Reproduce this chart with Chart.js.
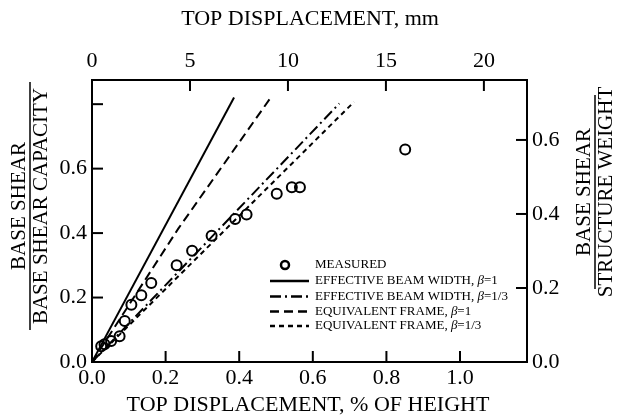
<!DOCTYPE html>
<html lang="en">
<head>
  <meta charset="UTF-8" />
  <title>Base Shear vs Top Displacement</title>
  <script src="https://cdn.jsdelivr.net/npm/chart.js"></script>
  <style>
    body { margin: 0; background: #fff; }
    #wrap { width: 617px; height: 418px; }
  </style>
</head>
<body>
  <div id="wrap"><canvas id="shearChart" width="617" height="418"></canvas></div>

  <script>
    // measured points (drift in % of height, base shear / capacity)
    const measuredDrift = [0.025, 0.034, 0.052, 0.075, 0.089, 0.107, 0.134, 0.161, 0.23, 0.272, 0.325, 0.389, 0.42, 0.502, 0.543, 0.565, 0.851];
    const measuredShear = [0.049, 0.055, 0.065, 0.080, 0.127, 0.178, 0.207, 0.245, 0.30, 0.345, 0.392, 0.444, 0.458, 0.522, 0.542, 0.542, 0.659];

    // analytical lines
    const ebw1Drift = [0, 0.386];
    const ebw1Shear = [0, 0.821];
    const ebw3Drift = [0, 0.672];
    const ebw3Shear = [0, 0.802];
    const ef1Drift = [0, 0.234, 0.486];
    const ef1Shear = [0, 0.413, 0.821];
    const ef3Drift = [0, 0.712];
    const ef3Shear = [0, 0.807];

    const seriesLabels = [
      "MEASURED",
      "EFFECTIVE BEAM WIDTH, β=1",
      "EFFECTIVE BEAM WIDTH, β=1/3",
      "EQUIVALENT FRAME, β=1",
      "EQUIVALENT FRAME, β=1/3"
    ];

    const pairs = (xs, ys) => xs.map((x, i) => ({ x: x, y: ys[i] }));
    const SERIF = '"Liberation Serif", "Times New Roman", serif';

    const lineStyle = (dash) => ({
      borderColor: "#000",
      borderWidth: 2,
      borderDash: dash,
      pointRadius: 0,
      fill: false,
      showLine: true
    });

    // inward tick marks
    const tickMarks = {
      id: "tickMarks",
      afterDraw(chart) {
        const ctx = chart.ctx;
        const a = chart.chartArea;
        const len = 11;
        ctx.save();
        ctx.strokeStyle = "#000";
        ctx.lineWidth = 2;
        Object.values(chart.scales).forEach(s => {
          s.ticks.forEach(t => {
            const p = s.getPixelForValue(t.value);
            ctx.beginPath();
            if (s.id === "x") {
              if (p <= a.left + 1) return;
              ctx.moveTo(p, a.bottom); ctx.lineTo(p, a.bottom - len);
            } else if (s.id === "x2") {
              if (p <= a.left + 1) return;
              ctx.moveTo(p, a.top); ctx.lineTo(p, a.top + len);
            } else if (s.id === "y") {
              if (p >= a.bottom - 1) return;
              ctx.moveTo(a.left, p); ctx.lineTo(a.left + len, p);
            } else {
              if (p >= a.bottom - 1) return;
              ctx.moveTo(a.right, p); ctx.lineTo(a.right - len, p);
            }
            ctx.stroke();
          });
        });
        ctx.restore();
      }
    };

    // axis titles, including the two fraction-style ones
    const axisTitles = {
      id: "axisTitles",
      afterDraw(chart) {
        const ctx = chart.ctx;
        ctx.save();
        ctx.fillStyle = "#000";
        ctx.strokeStyle = "#000";
        ctx.font = "22px " + SERIF;
        ctx.textAlign = "center";
        ctx.textBaseline = "middle";
        ctx.fillText("TOP DISPLACEMENT, mm", 310, 19);
        ctx.fillText("TOP DISPLACEMENT, % OF HEIGHT", 308, 405);

        ctx.font = "21px " + SERIF;
        function fraction(cx, cy, top, bottom, barLen) {
          ctx.save();
          ctx.translate(cx, cy);
          ctx.rotate(-Math.PI / 2);
          ctx.fillText(top, 0, -11);
          ctx.fillText(bottom, 0, 11);
          ctx.lineWidth = 1.5;
          ctx.beginPath();
          ctx.moveTo(-barLen / 2, 0);
          ctx.lineTo(barLen / 2, 0);
          ctx.stroke();
          ctx.restore();
        }
        fraction(30, 206, "BASE SHEAR", "BASE SHEAR CAPACITY", 248);
        fraction(595, 192, "BASE SHEAR", "STRUCTURE WEIGHT", 194);
        ctx.restore();
      }
    };

    // legend drawn inside the plot, with italic beta
    const innerLegend = {
      id: "innerLegend",
      afterDraw(chart) {
        const ctx = chart.ctx;
        const rows = [265, 281, 296.5, 311.5, 326];
        const x0 = 270, x1 = 309, tx = 315;
        ctx.save();
        ctx.textBaseline = "middle";
        ctx.textAlign = "left";
        chart.data.datasets.forEach((ds, i) => {
          const y = rows[i];
          ctx.strokeStyle = "#000";
          if (i === 0) {
            ctx.lineWidth = 2.5;
            ctx.setLineDash([]);
            ctx.beginPath();
            ctx.arc(285, y, 4, 0, Math.PI * 2);
            ctx.stroke();
          } else {
            ctx.lineWidth = 2.5;
            ctx.setLineDash(ds.borderDash || []);
            ctx.beginPath();
            ctx.moveTo(x0, y);
            ctx.lineTo(x1, y);
            ctx.stroke();
            ctx.setLineDash([]);
          }
          ctx.fillStyle = "#000";
          const parts = ds.label.split("β");
          let x = tx;
          parts.forEach((part, k) => {
            if (k > 0) {
              ctx.font = "italic 13px " + SERIF;
              ctx.fillText("β", x, y);
              x += ctx.measureText("β").width;
            }
            ctx.font = "13px " + SERIF;
            ctx.fillText(part, x, y);
            x += ctx.measureText(part).width;
          });
        });
        ctx.restore();
      }
    };

    const tickFont = { family: SERIF, size: 22 };

    new Chart(document.getElementById("shearChart"), {
      type: "scatter",
      data: {
        datasets: [
          {
            label: seriesLabels[0],
            data: pairs(measuredDrift, measuredShear),
            pointStyle: "circle",
            pointRadius: 5,
            pointBorderWidth: 2,
            borderColor: "#000",
            backgroundColor: "rgba(0,0,0,0)",
            showLine: false
          },
          Object.assign({ label: seriesLabels[1], data: pairs(ebw1Drift, ebw1Shear) }, lineStyle([])),
          Object.assign({ label: seriesLabels[2], data: pairs(ebw3Drift, ebw3Shear) }, lineStyle([11, 4, 2, 4])),
          Object.assign({ label: seriesLabels[3], data: pairs(ef1Drift, ef1Shear) }, lineStyle([9, 5])),
          Object.assign({ label: seriesLabels[4], data: pairs(ef3Drift, ef3Shear) }, lineStyle([5, 4]))
        ]
      },
      options: {
        responsive: false,
        animation: false,
        layout: { padding: 0 },
        plugins: {
          legend: { display: false },
          tooltip: { enabled: false }
        },
        scales: {
          x: {
            type: "linear",
            position: "bottom",
            min: 0,
            max: 1.182,
            afterFit: s => { s.height = 56; },
            grid: { display: false, drawTicks: false },
            border: { display: true, color: "#000", width: 2 },
            ticks: {
              stepSize: 0.2,
              includeBounds: false,
              padding: 3,
              color: "#000",
              font: tickFont,
              callback: v => v.toFixed(1)
            }
          },
          x2: {
            type: "linear",
            position: "top",
            min: 0,
            max: 22.2,
            afterFit: s => { s.height = 80; },
            grid: { display: false, drawTicks: false },
            border: { display: true, color: "#000", width: 2 },
            ticks: {
              stepSize: 5,
              includeBounds: false,
              padding: 6,
              color: "#000",
              font: tickFont,
              callback: v => String(v)
            }
          },
          y: {
            type: "linear",
            position: "left",
            min: 0,
            max: 0.875,
            afterFit: s => { s.width = 92; },
            grid: { display: false, drawTicks: false },
            border: { display: true, color: "#000", width: 2 },
            ticks: {
              stepSize: 0.2,
              includeBounds: false,
              padding: 5,
              color: "#000",
              font: tickFont,
              callback: v => (v > 0.7 ? "" : v.toFixed(1))
            }
          },
          y2: {
            type: "linear",
            position: "right",
            min: 0,
            max: 0.762,
            afterFit: s => { s.width = 90; },
            grid: { display: false, drawTicks: false },
            border: { display: true, color: "#000", width: 2 },
            ticks: {
              stepSize: 0.2,
              includeBounds: false,
              padding: 5,
              color: "#000",
              font: tickFont,
              callback: v => v.toFixed(1)
            }
          }
        }
      },
      plugins: [tickMarks, axisTitles, innerLegend]
    });
  </script>
</body>
</html>
